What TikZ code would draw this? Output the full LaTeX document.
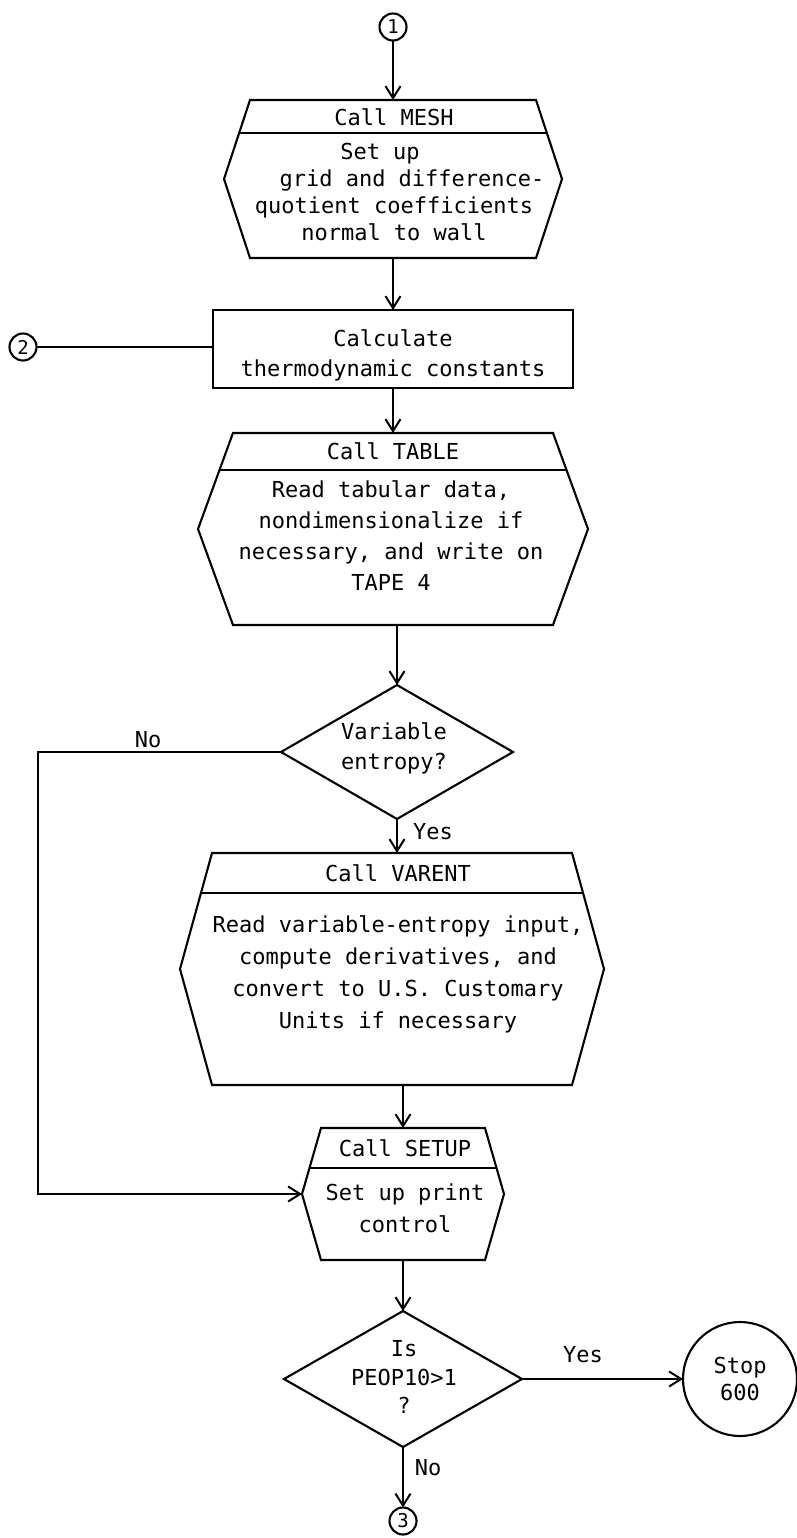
\documentclass[tikz,border=0pt]{standalone}
\usepackage{fontspec}
\setmonofont{DejaVu Sans Mono}
\usetikzlibrary{arrows.meta,calc}

% Hexagonal "Call ..." box: #1 frame node, #2 corner inset, #3 divider position (fraction of upper half)
\newcommand\hexcall[3]{%
  \coordinate (#1-tl) at ([xshift=#2]#1.north west);
  \coordinate (#1-tr) at ([xshift=-#2]#1.north east);
  \coordinate (#1-bl) at ([xshift=#2]#1.south west);
  \coordinate (#1-br) at ([xshift=-#2]#1.south east);
  \draw (#1.west) -- (#1-tl) -- (#1-tr) -- (#1.east) -- (#1-br) -- (#1-bl) -- cycle;
  \draw ($(#1-tl)!#3!(#1.west)$) -- ($(#1-tr)!#3!(#1.east)$);
}

\begin{document}
\begin{tikzpicture}[x=1pt,y=-1pt,
  line width=2.1pt, line join=miter,
  flow/.style={-{Straight Barb[length=12pt,width=15pt,line width=2pt]}},
  frame/.style={inner sep=0pt, outer sep=0pt},
  txt/.style={font=\ttfamily\fontsize{22}{#1}\selectfont, align=center, inner sep=0pt},
  txt/.default=27,
  conn/.style={draw, circle, minimum size=27pt, inner sep=0pt, outer sep=0pt,
    font=\ttfamily\fontsize{19}{19}\selectfont},
  lbl/.style={font=\ttfamily\fontsize{22}{22}\selectfont, inner sep=0pt},
]
\useasboundingbox (0,0) rectangle (797,1538);

% off-page connectors
\node[conn] (c1) at (393,27) {1};
\node[conn] (c2) at (23,347) {2};
\node[conn] (c3) at (403,1521) {3};

% Call MESH
\node[frame, minimum width=338pt, minimum height=158pt] (mesh) at (393,179) {};
\hexcall{mesh}{26pt}{0.42}
\node[txt] (mesh-title) at (394,117) {Call MESH};
\node[txt] (mesh-text) at (394,192) {Set up\hspace*{28pt}\\\hspace*{36pt}grid and difference-\\quotient coefficients\\normal to wall};

% thermodynamic constants
\node[draw, frame, minimum width=360pt, minimum height=78pt] (calc) at (393,349) {};
\node[txt=30] (calc-text) at (393,355) {Calculate\\thermodynamic constants};

% Call TABLE
\node[frame, minimum width=390pt, minimum height=192pt] (table) at (393,529) {};
\hexcall{table}{35pt}{0.385}
\node[txt] (table-title) at (393,451) {Call TABLE};
\node[txt=31] (table-text) at (391,536) {Read tabular data,\\nondimensionalize if\\necessary, and write on\\TAPE 4};

% Variable entropy decision
\node[frame, minimum width=232pt, minimum height=134pt] (d1) at (397,752) {};
\draw (d1.north) -- (d1.east) -- (d1.south) -- (d1.west) -- cycle;
\node[txt=30] (d1-text) at (394,748) {Variable\\entropy?};

% Call VARENT
\node[frame, minimum width=424pt, minimum height=232pt] (varent) at (392,969) {};
\hexcall{varent}{32pt}{0.345}
\node[txt] (varent-title) at (398,873) {Call VARENT};
\node[txt=32] (varent-text) at (398,974) {Read variable-entropy input,\\compute derivatives, and\\convert to U.S. Customary\\Units if necessary};

% Call SETUP
\node[frame, minimum width=202pt, minimum height=132pt] (setup) at (403,1194) {};
\hexcall{setup}{19pt}{0.6}
\node[txt] (setup-title) at (405,1148) {Call SETUP};
\node[txt=32] (setup-text) at (405,1208) {Set up print\\control};

% PEOP10 decision
\node[frame, minimum width=238pt, minimum height=136pt] (d2) at (403,1379) {};
\draw (d2.north) -- (d2.east) -- (d2.south) -- (d2.west) -- cycle;
\node[txt=28.5] (d2-text) at (404,1377) {Is\\PEOP10>1\\?};

% stop
\node[draw, circle, frame, minimum size=114pt, txt] (stop) at (740,1379) {Stop\\600};

% connectors
\coordinate (nobend) at (38,752);
\draw[flow] (c1.south) -- (c1.south |- mesh.north);
\draw[flow] (mesh.south) -- (mesh.south |- calc.north);
\draw (c2.east) -- (c2.east -| calc.west);
\draw[flow] (calc.south) -- (table.north);
\draw[flow] (d1.north |- table.south) -- (d1.north);
\draw[flow] (d1.south) -- (d1.south |- varent.north);
\draw[flow] (d1.west) -- (nobend) |- (setup.west);
\draw[flow] (setup.north |- varent.south) -- (setup.north);
\draw[flow] (setup.south) -- (d2.north);
\draw[flow] (d2.east) -- (stop.west);
\draw[flow] (d2.south) -- (c3.north);

% branch labels
\node[lbl] (no1) at (148,740) {No};
\node[lbl] (yes1) at (433,832) {Yes};
\node[lbl] (yes2) at (583,1355) {Yes};
\node[lbl] (no2) at (428,1468) {No};
\end{tikzpicture}
\end{document}
